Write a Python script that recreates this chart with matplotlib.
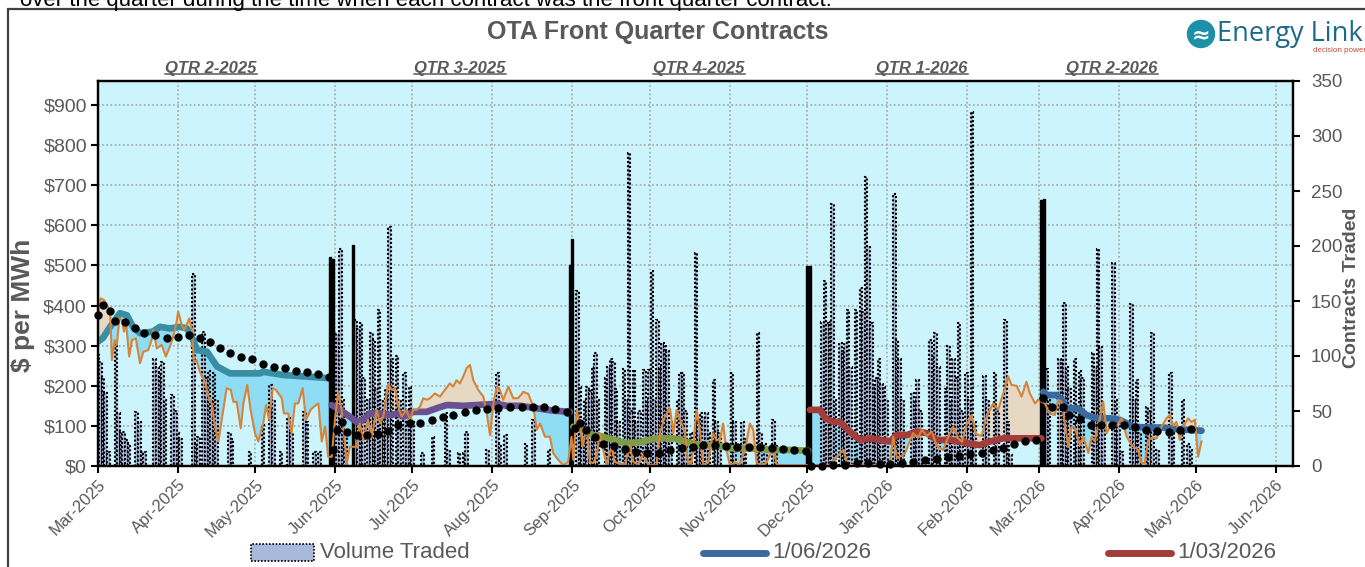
import matplotlib
matplotlib.use("Agg")
import matplotlib.pyplot as plt
import numpy as np
import pandas as pd
from matplotlib.lines import Line2D
from matplotlib.patches import Rectangle, Ellipse

W, H = 1365, 567
BASE = pd.Timestamp("2025-03-01")   # day offsets below are counted from this date
SANS = ["Liberation Sans", "DejaVu Sans"]
plt.rcParams["font.family"] = SANS

# ---------------- data ----------------
# daily settlement price of the front quarter ($/MWh)
price_day = [0.3, 1.0, 2.3, 3.5, 4.7, 5.4, 6.5, 7.3, 8.3, 9.3, 10.1, 10.9, 12.1, 13.2, 14.7, 16.3, 17.6, 19.5,
             20.8, 21.5, 22.8, 24.7, 26.3, 27.9, 29.2, 30.5, 31.1, 32.5, 33.4, 34.4, 35.4, 36.5, 37.2, 38.3,
             39.3, 40.3, 41.5, 42.8, 44.1, 45.4, 46.7, 48.0, 49.9, 51.5, 52.5, 53.8, 55.4, 56.4, 57.9, 59.2,
             60.9, 62.2, 64.1, 65.2, 66.4, 67.8, 69.0, 71.3, 72.1, 73.8, 75.1, 76.4, 77.7, 79.4, 80.7, 82.5,
             83.8, 85.5, 86.8, 88.1, 89.3, 90.7,
             91.9, 93.2, 94.5, 95.2, 96.5, 97.7, 100.3, 101.6, 102.9, 104.8, 106.2, 108.1, 109.4, 110.7,
             112.6, 113.9, 115.2, 116.5, 117.8, 119.7, 121.0, 122.3, 123.6, 124.9, 126.2, 127.5, 128.8,
             130.7, 132.7, 134.6, 136.5, 137.8, 139.1, 140.4, 141.7, 143.0, 144.3, 145.6, 147.5, 149.5,
             150.8, 152.1, 153.4, 154.7, 155.9, 157.2, 159.2, 161.1, 163.0, 165.0, 166.9, 168.9, 170.2,
             171.5, 173.4, 175.3, 176.6, 178.6, 180.5, 182.4, 183.7,
             184.4, 185.7, 187.0, 188.0, 189.6, 190.8, 192.1, 193.4, 194.7, 196.0, 197.3, 199.2, 200.5,
             202.5, 204.4, 206.4, 207.7, 209.6, 211.6, 213.5, 216.7, 218.0, 219.9, 221.9, 223.2, 224.5,
             226.4, 227.7, 229.0, 230.3, 232.2, 233.5, 234.8, 236.7, 238.6, 239.9, 241.3, 242.5, 243.8,
             245.1, 247.1, 249.0, 251.0, 252.9, 254.2, 255.5, 256.8, 259.4, 262.0, 263.3, 267.2, 272.4, 275.6,
             277.0, 284.0, 289.1, 291.0, 299.5, 307.2, 308.5, 309.9, 313.0, 316.2, 318.1, 319.6, 321.6,
             323.5, 325.4, 327.9, 329.7, 331.8, 333.6, 335.2, 336.9, 338.9, 340.6, 342.8, 344.7, 347.3,
             349.2, 351.2, 353.1, 354.4, 356.4, 358.3, 360.2, 361.5, 363.5, 364.7, 366.1,
             367.3, 369.3, 371.2, 372.5, 373.8, 375.1, 376.4, 377.7, 379.0, 380.9, 382.2, 384.2, 385.5,
             386.7, 388.7, 390.0, 391.3, 393.2, 395.2, 397.1, 399.1, 401.0, 403.5, 404.9, 406.1, 407.4,
             408.7, 410.7, 411.9, 414.5, 415.8, 417.1, 418.4, 419.7, 421.0, 422.9, 424.2, 425.5, 426.8, 428.1]
price_val = [389, 418, 414, 401, 389, 264, 314, 302, 368, 364, 335, 356, 273, 314, 318, 256, 285, 289,
             314, 339, 293, 302, 273, 298, 322, 360, 385, 352, 339, 352, 368, 339, 260, 264,
             239, 223, 210, 173, 156, 98, 61, 115, 194, 190, 160, 160, 94, 156, 202, 140,
             82, 61, 106, 152, 115, 194, 190, 169, 131, 131, 82, 156, 156, 194, 115, 140,
             148, 156, 61, 98, 23, 23,
             115, 185, 140, 98, 5, 48, 48, 106, 65, 115, 73, 140, 106, 123,
             206, 190, 194, 148, 123, 140, 115, 140, 140, 148, 169, 165, 169,
             181, 173, 190, 206, 198, 214, 206, 223, 244, 252, 214, 190, 173,
             131, 77, 156, 198, 190, 165, 198, 169, 169, 185, 180, 148, 90,
             106, 73, 73, 32, 15, 2, 10, 73,
             15, 140, 98, 48, 98, 11, 7, 23, 82, 40, 5, 48, 10,
             5, 3, 52, 10, 3, 32, 2, 2, 82, 123, 144, 82, 140,
             106, 82, 3, 8, 140, 90, 3, 8, 82, 65, 65, 106, 40,
             3, 8, 5, 40, 106, 90, 8, 3, 8, 48, 3, 2, 2, 2,
             2, 3, 40, 3, 3, 3, 73, 20, 30, 82, 70, 90, 75,
             86, 50, 40, 70, 98, 70, 60, 102, 127, 80, 75, 123, 156,
             140, 181, 223, 202, 200, 173, 210, 181, 156, 165, 160,
             156, 131, 127, 165, 160, 106, 48, 98, 95, 52, 73, 32, 73,
             61, 119, 160, 82, 106, 100, 119, 73, 52, 40, 7, 7, 65,
             70, 69, 90, 119, 127, 100, 110, 65, 98, 119, 110, 115, 23, 61]

# front-quarter contract price, one series per quarter
qtr2_25_day = [0, 1.9, 4.7, 8.5, 11.2, 13.6, 16.3, 21.3, 24.0, 27.9, 31.8, 34.5, 36.9, 38.4, 42.3, 46.2,
               51.2, 62.8, 64.0, 71.8, 90.0]
qtr2_25_val = [310, 319, 347, 381, 376, 347, 331, 335, 347, 343, 347, 343, 314, 289, 285, 248,
               231, 231, 235, 227, 219]
qtr3_25_day = [90.6, 93.9, 97.7, 100.3, 102.9, 105.5, 109.4, 113.3, 117.1, 118.4, 122.3, 127.5, 131.4,
               135.3, 141.7, 146.9, 154.7, 158.5, 163.7, 170.2, 176.6, 183.1]
qtr3_25_val = [152, 140, 123, 110, 115, 131, 131, 127, 131, 123, 135, 135, 144,
               152, 150, 152, 155, 150, 150, 144, 138, 135]
qtr4_25_day = [184.4, 188.3, 192.1, 196.0, 199.9, 205.1, 210.7, 216.7, 223.2, 228.3, 233.5, 240.0,
               245.1, 251.6, 258.1, 264.5, 269.7, 275.5]
qtr4_25_val = [98, 90, 77, 73, 65, 56, 60, 69, 69, 60, 52, 52, 44, 44, 42, 40, 40, 38]
qtr1_26_day = [276.2, 280.1, 282.1, 285.2, 287.8, 292.3, 295.6, 299.5, 303.3, 307.2, 309.8, 313.7,
               317.6, 321.5, 325.4, 330.5, 334.4, 338.2, 342.1, 346.0, 351.2, 356.3, 361.5, 366.0]
qtr1_26_val = [140, 140, 119, 110, 110, 82, 65, 69, 65, 61, 77, 77, 86, 82, 65, 65, 61, 56, 52, 61,
               69, 69, 69, 69]
qtr2_26_day = [366.7, 368.0, 371.9, 373.8, 375.7, 380.2, 383.5, 387.4, 392.6, 396.4, 401.6, 406.8,
               413.2, 419.7, 423.6, 428.1]
qtr2_26_val = [185, 177, 177, 165, 144, 144, 127, 119, 119, 115, 98, 96, 96, 91, 90, 88]

quarter_labels = ["QTR 2-2025", "QTR 3-2025", "QTR 4-2025", "QTR 1-2026", "QTR 2-2026"]
quarter_colors = ["#3A8EA4", "#6A5190", "#7E9C45", "#A23D3B", "#3C68A0"]

# running average of settlements (black dots)
avg_day = [0, 1.9, 4.7, 6.6, 10.5, 14.4, 17.8, 22.1, 26.8, 31.0, 35.3, 39.6, 43.4, 47.3, 51.2, 55.5,
           59.7, 64.0, 68.3, 72.5, 76.8, 81.1, 85.3, 89.6,
           91.3, 92.6, 94.5, 96.5, 100.3, 104.2, 108.7, 112.6, 116.5, 121.0, 124.9, 129.4, 133.7, 137.8,
           142.4, 146.6, 150.8, 155.3, 159.8, 164.4, 168.6, 173.0, 177.4, 181.8,
           185.0, 187.0, 189.3, 192.8, 196.0, 200.2, 204.4, 208.9, 213.1, 217.7, 221.9, 226.4, 230.7,
           234.8, 239.3, 243.6, 248.0, 252.5, 256.8, 261.3, 265.6, 270.1, 274.6,
           276.8, 280.9, 285.2, 289.8, 294.3, 298.7, 303.3, 307.2, 311.8, 316.3, 320.8, 325.4, 329.6,
           334.0, 338.2, 342.8, 347.1, 351.2, 355.5, 359.6, 363.9,
           366.7, 370.0, 374.2, 376.8, 381.0, 385.1, 389.3, 393.4, 398.0, 402.3, 406.5, 410.9, 415.4,
           419.7, 424.1]
avg_val = [376, 401, 387, 362, 358, 343, 331, 327, 320, 322, 327, 320, 310, 293, 283, 273,
           266, 254, 248, 244, 238, 234, 229, 221,
           40, 90, 110, 86, 77, 77, 80, 87, 102, 106, 108, 115, 121, 127,
           134, 140, 142, 144, 146, 147, 147, 146, 142, 135,
           94, 106, 90, 73, 56, 50, 42, 36, 33, 32, 40, 44, 48,
           52, 52, 50, 48, 47, 47, 46, 42, 40, 38,
           0, 0, 2, 2, 7, 7, 5, 5, 7, 11, 15, 17, 23,
           25, 30, 33, 40, 46, 55, 63, 66,
           169, 148, 148, 127, 116, 102, 102, 102, 102, 98, 90, 87, 86,
           90, 92]

# contracts traded (right axis)
vol_day = [0, 1, 2, 3, 4, 7, 8, 9, 10, 11, 12, 15, 16, 17, 18, 22, 23, 24, 25, 26, 29, 30, 31, 32, 37, 38,
           39, 41, 42, 43, 44, 45, 46, 51, 52, 59, 64, 67, 68, 71, 74, 75, 80, 81, 84, 86,
           93, 94, 95, 96, 100, 101, 102, 103, 105, 106, 107, 108, 109, 110, 111, 112, 113, 114, 116, 117,
           119, 120, 121, 122, 126, 130, 135, 136, 140, 142, 143, 151, 155, 156, 158, 166, 169, 175,
           186, 187, 188, 189, 190, 191, 192, 193, 194, 197, 198, 199, 200, 201, 202, 204, 205, 206, 207,
           208, 209, 210, 212, 213, 214, 215, 216, 217, 218, 219, 220, 221, 222, 225, 226, 227, 228, 230,
           232, 233, 234, 235, 236, 237, 239, 240, 241, 246, 247, 250, 251, 256, 257, 259, 262, 263,
           281, 282, 283, 284, 285, 286, 288, 289, 290, 291, 292, 294, 296, 297, 298, 299, 300, 301, 302,
           303, 304, 305, 306, 309, 310, 311, 312, 316, 317, 318, 319, 323, 324, 325, 326, 329, 330, 331,
           332, 333, 334, 335, 337, 338, 339, 340, 344, 345, 348, 349, 352, 353, 354,
           368, 369, 373, 374, 375, 376, 377, 379, 380, 381, 382, 386, 387, 388, 389, 390, 394, 395, 396,
           397, 401, 402, 403, 404, 407, 408, 409, 411, 416, 417, 421, 423, 424]
vol_val = [101, 95, 80, 66, 13, 113, 48, 31, 31, 24, 20, 49, 40, 13, 13, 97, 90, 85, 95, 60, 65, 50, 30, 25,
           175, 20, 26, 122, 80, 86, 60, 85, 60, 30, 25, 13, 37, 74, 60, 13, 44, 30, 49, 40, 13, 13,
           120, 197, 60, 30, 133, 125, 130, 80, 60, 121, 115, 70, 142, 60, 50, 70, 217, 97, 100, 60,
           85, 50, 72, 40, 12, 26, 48, 15, 12, 12, 31, 15, 85, 20, 28, 20, 42, 15,
           159, 72, 40, 60, 72, 68, 90, 103, 60, 80, 90, 97, 95, 70, 40, 88, 60, 285, 50,
           87, 40, 50, 87, 60, 87, 177, 60, 133, 90, 112, 110, 105, 40, 60, 85, 85, 50, 30,
           194, 40, 48, 45, 48, 30, 78, 40, 30, 85, 40, 40, 25, 121, 30, 20, 42, 20,
           131, 168, 130, 131, 238, 60, 112, 105, 112, 142, 90, 142, 162, 140, 263, 200, 130, 72, 80,
           97, 75, 72, 60, 247, 115, 97, 60, 66, 60, 78, 50, 115, 100, 121, 90, 70, 109, 60,
           97, 80, 130, 50, 85, 60, 322, 40, 82, 60, 85, 50, 133, 40, 10,
           88, 60, 97, 95, 148, 90, 70, 97, 40, 86, 80, 103, 90, 197, 108, 40, 185, 60, 40,
           13, 147, 60, 78, 30, 54, 50, 121, 15, 85, 30, 60, 20, 15]
# first-day block volumes when a new contract becomes front quarter
block_day = [90, 91, 99, 183, 184, 275, 276, 366, 367]
block_val = [190, 188, 201, 183, 206, 182, 182, 242, 243]

month_ticks = pd.date_range("2025-03-01", "2026-06-01", freq="MS")
price_ticks = list(range(0, 1000, 100))
vol_ticks = list(range(0, 400, 50))

# ---------------- styling ----------------
GREY = "#595959"
BG = "#CBF4FC"
BLUE_FILL = "#8EDDF5"
TAN_FILL = "#E6D8C3"
ORANGE = "#D5843B"


def fx(x):
    return x / W


def fy(y):
    return 1 - y / H


fig = plt.figure(figsize=(W / 100, H / 100), dpi=100)
ax = fig.add_axes([fx(98), fy(466), (1293 - 98) / W, (466 - 81) / H])
ax.set_facecolor(BG)
ax2 = ax.twinx()

quarters = [(qtr2_25_day, qtr2_25_val), (qtr3_25_day, qtr3_25_val), (qtr4_25_day, qtr4_25_val),
            (qtr1_26_day, qtr1_26_val), (qtr2_26_day, qtr2_26_val)]

pday = np.array(price_day)
pval = np.array(price_val)
for (qd, qv) in quarters:
    g = np.arange(qd[0], qd[-1] + 1e-6, 0.05)
    t = np.interp(g, qd, qv)
    o = np.interp(g, pday, pval)
    ax.fill_between(g, o, t, where=o <= t, interpolate=True, color=BLUE_FILL, lw=0, zorder=1)
    ax.fill_between(g, o, t, where=o >= t, interpolate=True, color=TAN_FILL, lw=0, zorder=1)

# volume bars drawn in the price axes but on the volume scale
ax.bar(vol_day, vol_val, width=1.0, facecolor="#A9B9D9", edgecolor="black", linestyle=(0, (1, 1)),
       linewidth=1.5, transform=ax2.transData, zorder=2)
ax.bar(block_day, block_val, width=0.9, facecolor="black", edgecolor="black", linewidth=1.0,
       transform=ax2.transData, zorder=2)

for (qd, qv), col in zip(quarters, quarter_colors):
    ax.plot(qd, qv, color=col, lw=4.8, solid_capstyle="round", zorder=3)
ax.plot(price_day, price_val, color=ORANGE, lw=1.5, zorder=4)
ax.plot(avg_day, avg_val, "o", color="black", ms=5, zorder=5, clip_on=False)

mt = [(d - BASE).days for d in month_ticks]
ax.set_xlim(0, 463.6)
ax.set_ylim(0, 960)
ax2.set_ylim(0, 350)
ax.set_xticks(mt)
ax.set_xticklabels([d.strftime("%b-%Y") for d in month_ticks], rotation=45, ha="right",
                   rotation_mode="anchor", fontsize=12, color=GREY)
ax.set_yticks(price_ticks)
ax.set_yticklabels([f"${v}" for v in price_ticks], fontsize=14, color=GREY)
ax2.set_yticks(vol_ticks)
ax2.set_yticklabels([str(v) for v in vol_ticks], fontsize=13.5, color=GREY)
ax.set_axisbelow(True)
ax.grid(True, color="#A5A5A5", linestyle=(0, (1, 1.5)), linewidth=1.2)
for a in (ax, ax2):
    for s in a.spines.values():
        s.set_color("black")
        s.set_linewidth(1.6)
ax.tick_params(axis="both", direction="out", length=5, width=1.5, color="black", pad=3)
ax2.tick_params(axis="y", direction="out", length=5, width=1.5, color="black", pad=8)

ax.set_ylabel("$ per MWh", fontsize=19, fontweight="bold", color=GREY)
ax.yaxis.set_label_coords((35 - 98) / 1195, (466 - 305) / 385)
ax2.set_ylabel("Contracts Traded", fontsize=14, fontweight="bold", color=GREY)
ax2.yaxis.set_label_coords((1343 - 98) / 1195, (466 - 288) / 385)

# title and top text
fig.text(fx(658), fy(32), "OTA Front Quarter Contracts", ha="center", va="center", fontsize=18,
         fontweight="bold", color=GREY)
fig.text(fx(20), fy(6), "over the quarter during the time when each contract was the front quarter contract.",
         ha="left", va="baseline", fontsize=16, color="black")

# quarter headings (underlined)
q_centers = [211, 460, 699, 922, 1112]
qtexts = []
for lab, cx in zip(quarter_labels, q_centers):
    qtexts.append(fig.text(fx(cx), fy(69), lab, ha="center", va="center", fontsize=12,
                           fontweight="bold", style="italic", color=GREY))

# logo
fig.add_artist(Ellipse((fx(1201), fy(34)), 27 / W, 27 / H, transform=fig.transFigure,
                       color="#1E8FA8", zorder=5))
fig.text(fx(1201), fy(35), "≈", ha="center", va="center", fontsize=16, color="white",
         fontweight="bold", family=["DejaVu Sans"], zorder=6)
fig.text(fx(1217), fy(34), "Energy Link", ha="left", va="center", fontsize=19.5, color="#1C6A8A",
         family=["Open Sans", "DejaVu Sans"])
fig.text(fx(1313), fy(51), "decision power", ha="left", va="center", fontsize=5.5, color="#C0392B",
         family=["Open Sans", "DejaVu Sans"])

# border
fig.add_artist(Rectangle((fx(8), fy(1000)), 1.2, (1000 - 9) / H, transform=fig.transFigure,
                         fill=False, edgecolor="#404040", lw=1.6))

# legend
fig.add_artist(Rectangle((fx(251), fy(561)), 63 / W, 17 / H, transform=fig.transFigure,
                         facecolor="#A9B9D9", edgecolor="black", linestyle=(0, (1, 1)), lw=1.2))
fig.text(fx(320), fy(553), "Volume Traded", ha="left", va="center", fontsize=16, color=GREY)
fig.add_artist(Line2D([fx(703), fx(766)], [fy(553)] * 2, color=quarter_colors[4], lw=5,
                      solid_capstyle="round", transform=fig.transFigure))
fig.text(fx(772), fy(553), "1/06/2026", ha="left", va="center", fontsize=16, color=GREY)
fig.add_artist(Line2D([fx(1108), fx(1171)], [fy(553)] * 2, color=quarter_colors[3], lw=5,
                      solid_capstyle="round", transform=fig.transFigure))
fig.text(fx(1177), fy(553), "1/03/2026", ha="left", va="center", fontsize=16, color=GREY)

fig.canvas.draw()
r = fig.canvas.get_renderer()
for t in qtexts:
    bb = t.get_window_extent(r)
    yy = (bb.y0 + 2) / H
    fig.add_artist(Line2D([bb.x0 / W, bb.x1 / W], [yy, yy], color=GREY, lw=1.1,
                          transform=fig.transFigure))

fig.savefig("out.png", dpi=100, facecolor="white")
